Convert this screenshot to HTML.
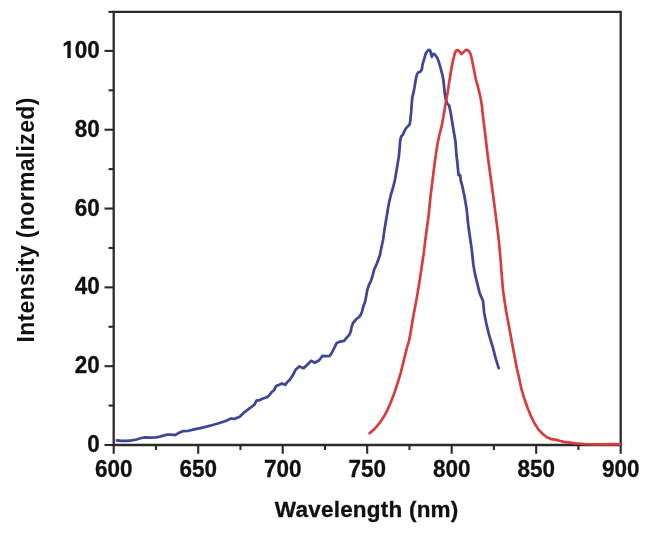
<!DOCTYPE html>
<html><head><meta charset="utf-8"><style>
html,body{margin:0;padding:0;background:#fff;}
svg{display:block;filter:blur(0.35px);}
.t{font-family:"Liberation Sans",sans-serif;font-weight:bold;font-size:22.5px;fill:#111;stroke:#111;stroke-width:0.3px;}
.ti{font-family:"Liberation Sans",sans-serif;font-weight:bold;font-size:23px;fill:#111;stroke:#111;stroke-width:0.3px;}
</style></head><body>
<svg width="650" height="537" viewBox="0 0 650 537">
<rect width="650" height="537" fill="#fff"/>
<path d="M113.70,11.9 H620.70 V445.00 H113.70 Z" fill="none" stroke="#2a2a2a" stroke-width="2.3"/>
<line x1="104.50" y1="445.00" x2="113.70" y2="445.00" stroke="#2a2a2a" stroke-width="2.1"/>
<line x1="108.50" y1="405.59" x2="113.70" y2="405.59" stroke="#2a2a2a" stroke-width="2.1"/>
<line x1="104.50" y1="366.18" x2="113.70" y2="366.18" stroke="#2a2a2a" stroke-width="2.1"/>
<line x1="108.50" y1="326.77" x2="113.70" y2="326.77" stroke="#2a2a2a" stroke-width="2.1"/>
<line x1="104.50" y1="287.36" x2="113.70" y2="287.36" stroke="#2a2a2a" stroke-width="2.1"/>
<line x1="108.50" y1="247.95" x2="113.70" y2="247.95" stroke="#2a2a2a" stroke-width="2.1"/>
<line x1="104.50" y1="208.54" x2="113.70" y2="208.54" stroke="#2a2a2a" stroke-width="2.1"/>
<line x1="108.50" y1="169.13" x2="113.70" y2="169.13" stroke="#2a2a2a" stroke-width="2.1"/>
<line x1="104.50" y1="129.72" x2="113.70" y2="129.72" stroke="#2a2a2a" stroke-width="2.1"/>
<line x1="108.50" y1="90.31" x2="113.70" y2="90.31" stroke="#2a2a2a" stroke-width="2.1"/>
<line x1="104.50" y1="50.90" x2="113.70" y2="50.90" stroke="#2a2a2a" stroke-width="2.1"/>
<line x1="108.50" y1="11.90" x2="113.70" y2="11.90" stroke="#2a2a2a" stroke-width="2.1"/>
<line x1="113.70" y1="445.00" x2="113.70" y2="453.80" stroke="#2a2a2a" stroke-width="2.1"/>
<line x1="155.95" y1="445.00" x2="155.95" y2="450.00" stroke="#2a2a2a" stroke-width="2.1"/>
<line x1="198.20" y1="445.00" x2="198.20" y2="453.80" stroke="#2a2a2a" stroke-width="2.1"/>
<line x1="240.45" y1="445.00" x2="240.45" y2="450.00" stroke="#2a2a2a" stroke-width="2.1"/>
<line x1="282.70" y1="445.00" x2="282.70" y2="453.80" stroke="#2a2a2a" stroke-width="2.1"/>
<line x1="324.95" y1="445.00" x2="324.95" y2="450.00" stroke="#2a2a2a" stroke-width="2.1"/>
<line x1="367.20" y1="445.00" x2="367.20" y2="453.80" stroke="#2a2a2a" stroke-width="2.1"/>
<line x1="409.45" y1="445.00" x2="409.45" y2="450.00" stroke="#2a2a2a" stroke-width="2.1"/>
<line x1="451.70" y1="445.00" x2="451.70" y2="453.80" stroke="#2a2a2a" stroke-width="2.1"/>
<line x1="493.95" y1="445.00" x2="493.95" y2="450.00" stroke="#2a2a2a" stroke-width="2.1"/>
<line x1="536.20" y1="445.00" x2="536.20" y2="453.80" stroke="#2a2a2a" stroke-width="2.1"/>
<line x1="578.45" y1="445.00" x2="578.45" y2="450.00" stroke="#2a2a2a" stroke-width="2.1"/>
<line x1="620.70" y1="445.00" x2="620.70" y2="453.80" stroke="#2a2a2a" stroke-width="2.1"/>
<text transform="translate(99.8,452.00) scale(1,1.09)" text-anchor="end" class="t">0</text>
<text transform="translate(99.8,373.18) scale(1,1.09)" text-anchor="end" class="t">20</text>
<text transform="translate(99.8,294.36) scale(1,1.09)" text-anchor="end" class="t">40</text>
<text transform="translate(99.8,215.54) scale(1,1.09)" text-anchor="end" class="t">60</text>
<text transform="translate(99.8,136.72) scale(1,1.09)" text-anchor="end" class="t">80</text>
<text transform="translate(99.8,57.90) scale(1,1.09)" text-anchor="end" class="t">00</text>
<path transform="translate(62.260,57.90) scale(0.010986,-0.011975)" d="M478,0 L478,1170 L140,959 L140,1180 L493,1409 L759,1409 L759,0 Z" fill="#111" stroke="#111" stroke-width="27.3"/>
<text transform="translate(113.70,477.3) scale(1,1.09)" text-anchor="middle" class="t">600</text>
<text transform="translate(198.20,477.3) scale(1,1.09)" text-anchor="middle" class="t">650</text>
<text transform="translate(282.70,477.3) scale(1,1.09)" text-anchor="middle" class="t">700</text>
<text transform="translate(367.20,477.3) scale(1,1.09)" text-anchor="middle" class="t">750</text>
<text transform="translate(451.70,477.3) scale(1,1.09)" text-anchor="middle" class="t">800</text>
<text transform="translate(536.20,477.3) scale(1,1.09)" text-anchor="middle" class="t">850</text>
<text transform="translate(620.70,477.3) scale(1,1.09)" text-anchor="middle" class="t">900</text>
<text x="366.6" y="516.7" text-anchor="middle" textLength="183.5" lengthAdjust="spacing" class="ti" style="font-size:22.5px">Wavelength (nm)</text>
<text transform="translate(33.5,220.1) rotate(-90)" x="0" y="0" text-anchor="middle" textLength="245" lengthAdjust="spacing" class="ti" style="stroke-width:0">Intensity (normalized)</text>
<polyline points="116.9,440.4 121.8,440.9 126.8,440.9 131.7,440.3 136.6,439.5 141.5,438.0 145.2,437.4 150.2,437.6 155.1,437.5 158.8,436.8 162.5,435.8 167.4,434.5 171.1,434.5 174.8,435.2 178.5,433.1 183.4,431.1 187.5,431.0 194.2,429.3 200.3,428.1 206.5,426.6 212.6,425.0 218.8,423.2 224.9,421.3 231.1,418.5 234.8,418.8 239.7,416.8 244.6,412.1 249.5,408.4 254.5,404.7 256.5,400.7 259.8,400.1 263.0,398.5 266.3,397.5 268.9,395.8 271.5,392.3 274.1,390.0 276.1,386.1 279.3,384.8 281.9,383.5 285.2,384.8 287.8,381.5 290.0,379.6 293.2,374.6 295.4,370.0 299.2,366.4 303.6,368.2 307.5,364.5 311.2,360.8 314.8,362.7 319.2,360.2 322.5,355.8 326.2,356.1 329.9,355.8 332.2,352.0 334.4,347.6 336.6,343.1 340.3,341.6 344.1,340.9 347.1,337.1 349.3,334.9 350.8,331.2 351.5,327.4 353.0,323.0 356.5,319.0 359.8,316.4 361.8,312.5 363.1,307.2 365.0,302.0 366.3,295.5 367.2,290.3 368.9,285.0 370.9,281.1 372.9,274.6 374.2,269.4 376.1,265.4 378.1,260.2 380.0,254.8 381.5,247.0 383.2,239.2 384.2,231.3 385.5,223.5 386.8,215.7 388.1,207.8 389.6,200.1 391.1,194.0 393.1,187.5 395.0,179.6 396.3,171.8 397.6,164.0 398.9,156.1 399.6,148.3 400.2,140.4 401.2,136.5 403.0,134.5 404.5,130.9 406.1,128.1 407.8,126.4 409.6,124.5 410.3,121.0 410.6,117.5 411.2,111.9 411.7,104.0 412.3,97.3 413.4,92.9 414.5,87.3 415.6,80.6 416.6,75.5 418.1,72.5 420.3,71.8 421.8,69.5 422.6,64.3 423.7,60.6 424.8,56.9 425.9,53.2 427.4,50.9 429.3,49.8 430.4,50.9 431.1,54.6 431.9,56.9 433.0,53.9 434.1,53.9 435.6,55.4 437.1,57.6 438.6,61.3 440.0,65.8 441.2,70.3 442.3,74.7 443.4,80.0 444.2,88.0 445.0,95.4 445.8,99.5 447.1,103.4 449.1,105.4 450.4,111.3 451.7,119.1 453.0,126.9 454.3,134.7 455.6,142.5 456.4,154.5 457.3,162.0 458.0,169.4 458.6,175.0 460.1,175.0 460.8,180.6 462.3,186.2 464.2,195.0 466.6,208.8 468.2,224.5 470.0,237.5 471.9,250.6 473.3,264.5 475.0,274.2 477.4,283.9 479.8,293.6 483.0,300.8 484.2,312.9 486.1,322.6 489.0,334.7 492.7,346.8 495.8,358.9 498.7,368.1" fill="none" stroke="#3f4696" stroke-width="2.75" stroke-linejoin="round" stroke-linecap="round"/>
<polyline points="369.6,433.2 375.0,428.5 380.3,422.1 384.6,415.6 387.8,409.2 391.0,401.7 394.3,393.2 397.5,383.5 400.7,372.8 403.9,360.0 407.1,347.1 409.2,340.4 413.1,317.6 417.0,296.7 420.4,275.8 423.5,254.9 426.1,234.0 428.6,215.5 430.6,195.7 432.8,177.8 435.1,159.9 437.3,145.0 438.7,138.0 440.4,131.0 441.9,124.9 443.2,117.8 444.8,108.6 446.1,100.8 447.8,91.4 449.2,82.4 450.6,73.5 451.9,65.7 453.4,59.0 454.8,53.4 456.2,50.6 457.8,50.0 459.5,51.7 461.5,54.0 463.4,52.3 465.1,50.6 467.1,49.8 469.0,51.2 470.5,54.0 471.6,57.9 472.7,63.4 473.8,69.0 474.9,74.6 476.0,80.2 477.4,84.7 478.5,89.1 479.6,93.6 481.0,100.0 481.8,105.2 483.2,118.3 484.6,129.4 485.9,140.0 487.5,154.0 490.3,174.8 493.5,198.4 496.2,219.2 498.8,240.1 500.6,260.2 501.5,272.0 503.1,291.1 506.0,310.5 509.6,329.8 513.2,349.2 516.9,368.6 519.2,378.5 521.3,388.4 524.2,398.3 527.7,408.2 531.2,416.7 534.8,423.8 538.3,429.4 542.5,433.7 546.8,437.2 551.0,439.1 555.3,439.6 559.5,440.8 563.8,441.9 570.0,442.6 575.2,443.3 584.4,444.0 593.6,444.3 602.8,444.4 612.1,444.1 620.4,444.3" fill="none" stroke="#d83c3c" stroke-width="2.7" stroke-linejoin="round" stroke-linecap="round"/>
</svg>
</body></html>
